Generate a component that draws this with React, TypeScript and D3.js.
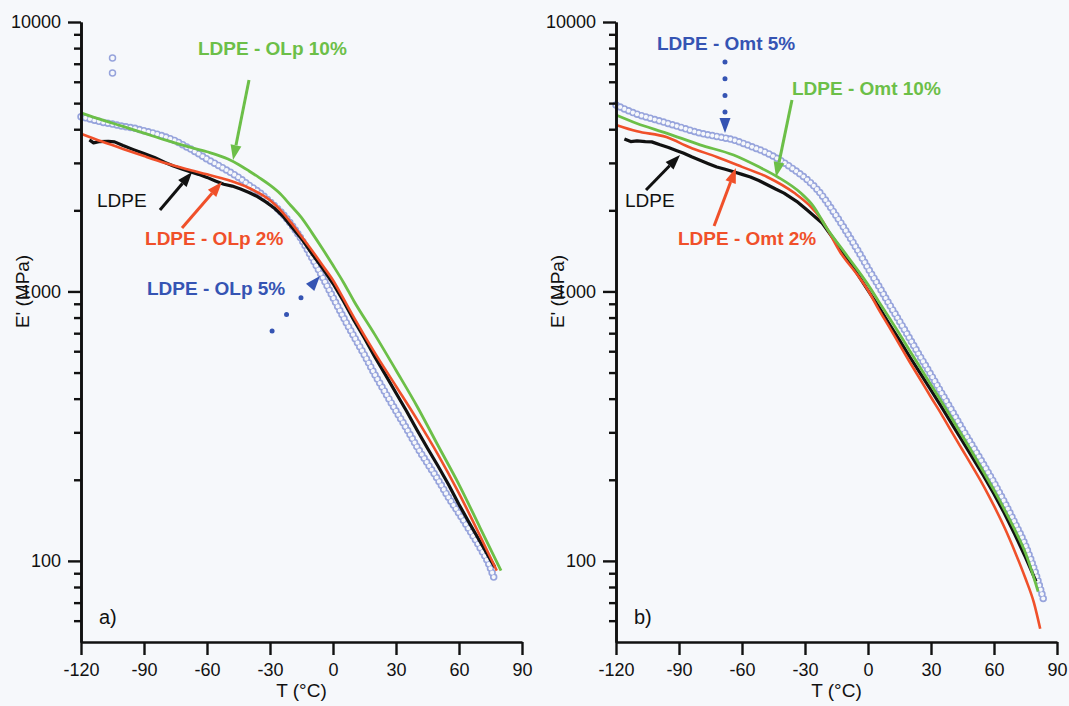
import React, { Component } from 'react'
import * as d3 from 'd3'

type Pt = [number, number]

// panel a) : T (°C), E' (MPa)
const ldpeA: Pt[] = [
  [-116, 3650], [-114, 3560], [-111, 3600], [-107, 3610], [-104, 3590], [-100, 3480],
  [-95, 3360], [-90, 3250], [-85, 3140], [-80, 3010], [-76, 2920], [-72, 2850],
  [-68, 2780], [-64, 2720], [-60, 2650], [-56, 2570], [-52, 2500], [-48, 2460],
  [-44, 2400], [-40, 2330], [-36, 2250], [-32, 2150], [-28, 2040], [-24, 1910],
  [-20, 1750], [-15, 1570], [-10, 1380], [-5, 1220], [0, 1070], [5, 920], [10, 780],
  [15, 670], [20, 570], [25, 490], [30, 420], [35, 360], [40, 306], [45, 262],
  [50, 225], [55, 192], [60, 162], [65, 138], [70, 118], [74, 104], [77, 95]
]
const olp2: Pt[] = [
  [-120, 3850], [-110, 3600], [-100, 3380], [-90, 3180], [-80, 3000], [-70, 2850],
  [-60, 2720], [-50, 2590], [-40, 2420], [-30, 2180], [-25, 2005], [-20, 1800],
  [-15, 1600], [-10, 1420], [-5, 1250], [0, 1100], [5, 940], [10, 800], [20, 590],
  [30, 445], [40, 335], [50, 248], [60, 178], [70, 124], [78, 92]
]
const olp5: Pt[] = [
  [-120, 4450], [-115, 4350], [-110, 4250], [-105, 4180], [-100, 4100], [-95, 4040],
  [-90, 3950], [-85, 3860], [-80, 3750], [-75, 3620], [-70, 3450], [-65, 3280],
  [-60, 3100], [-55, 2950], [-50, 2800], [-45, 2650], [-40, 2480], [-35, 2330],
  [-30, 2150], [-25, 1980], [-20, 1780], [-15, 1560], [-10, 1330], [-5, 1130],
  [0, 950], [5, 800], [10, 680], [15, 580], [20, 490], [25, 420], [30, 360],
  [35, 310], [40, 265], [45, 230], [50, 200], [55, 172], [60, 150], [65, 130],
  [70, 112], [74, 98], [77, 85]
]
const olp5Stray: Pt[] = [[-105, 7350], [-105, 6470]]
const olp10: Pt[] = [
  [-120, 4600], [-110, 4330], [-100, 4100], [-90, 3870], [-80, 3650], [-70, 3460],
  [-60, 3300], [-50, 3100], [-45, 2960], [-40, 2800], [-35, 2640], [-30, 2480],
  [-25, 2300], [-20, 2080], [-15, 1880], [-10, 1650], [-5, 1440], [0, 1250],
  [5, 1080], [10, 920], [20, 690], [30, 510], [40, 375], [50, 268], [60, 192],
  [70, 133], [80, 92]
]

// panel b)
const ldpeB: Pt[] = [
  [-116, 3680], [-113, 3600], [-110, 3620], [-106, 3600], [-103, 3590], [-99, 3500],
  [-95, 3420], [-91, 3330], [-88, 3263], [-84, 3160], [-80, 3070], [-76, 2980],
  [-72, 2897], [-68, 2840], [-64, 2780], [-60, 2720], [-56, 2660], [-52, 2580],
  [-48, 2490], [-44, 2400], [-40, 2318], [-34, 2160], [-29, 2005], [-22, 1800],
  [-16, 1552], [-10, 1330], [-5, 1160], [0, 1010], [5, 880], [10, 760], [15, 660],
  [20, 570], [25, 495], [30, 430], [35, 373], [40, 322], [45, 278], [50, 240],
  [55, 207], [60, 177], [65, 150], [70, 125], [75, 103], [80, 84]
]
const omt2: Pt[] = [
  [-120, 4150], [-110, 3930], [-96, 3740], [-85, 3430], [-72, 3155], [-60, 2900],
  [-48, 2660], [-35, 2318], [-28, 2090], [-22, 1841], [-13, 1390], [-5, 1150],
  [0, 1010], [5, 860], [10, 740], [15, 635], [20, 545], [25, 470], [30, 405],
  [35, 350], [40, 300], [45, 258], [50, 222], [55, 190], [60, 160], [65, 133],
  [70, 108], [75, 86], [79, 70], [82, 56]
]
const omt5: Pt[] = [
  [-120, 4920], [-115, 4720], [-110, 4550], [-103, 4380], [-96, 4220], [-88, 4040],
  [-80, 3870], [-72, 3760], [-64, 3650], [-56, 3460], [-48, 3263], [-41, 3040],
  [-35, 2825], [-29, 2600], [-24, 2380], [-20, 2170], [-16, 1953], [-12, 1750],
  [-7, 1513], [-3, 1340], [0, 1220], [5, 1050], [10, 900], [15, 775], [20, 665],
  [25, 570], [30, 490], [35, 420], [40, 360], [45, 308], [50, 265], [55, 228],
  [60, 195], [65, 165], [70, 138], [75, 114], [80, 89], [84, 70]
]
const omt10: Pt[] = [
  [-120, 4515], [-110, 4200], [-96, 3870], [-80, 3500], [-64, 3208], [-52, 2900],
  [-43, 2660], [-32, 2318], [-26, 2070], [-20, 1734], [-11, 1390], [0, 1060],
  [5, 920], [10, 800], [15, 695], [20, 600], [25, 520], [30, 450], [35, 390],
  [40, 337], [45, 290], [50, 250], [55, 214], [60, 183], [65, 155], [70, 130],
  [75, 107], [81, 77]
]

const xTicks = [-120, -90, -60, -30, 0, 30, 60, 90]
const yMajor = [100, 1000, 10000]
const yMinor = [60, 70, 80, 90, 200, 300, 400, 500, 600, 700, 800, 900,
  2000, 3000, 4000, 5000, 6000, 7000, 8000, 9000]

const W = 1069
const H = 706
const TOP = 22
const BOTTOM = 642
const FONT = "'Liberation Sans', Arial, Helvetica, sans-serif"
const BG = '#f6f8fb'
const BLACK = '#111111'
const RED = '#f0502a'
const GREEN = '#6cbf48'
const BLUE = '#3554b3'
const RING = '#97a4dc'

const panels = [
  {
    x0: 81, x1: 522, tag: 'a)',
    black: ldpeA, red: olp2, green: olp10, rings: olp5, stray: olp5Stray,
    labels: [
      { text: 'LDPE - OLp 10%', at: [-64.3, 8010], color: GREEN, bold: true },
      { text: 'LDPE', at: [-112.4, 2184], color: BLACK, bold: false },
      { text: 'LDPE - OLp 2%', at: [-89.5, 1579], color: RED, bold: true },
      { text: 'LDPE - OLp 5%', at: [-88.6, 1029], color: BLUE, bold: true }
    ],
    arrows: [
      { from: [-40, 6090], to: [-47.6, 3074], color: GREEN, dotted: 0 },
      { from: [-82.4, 2005], to: [-67.1, 2775], color: BLACK, dotted: 0 },
      { from: [-71.9, 1719], to: [-52.9, 2548], color: RED, dotted: 0 },
      { from: [-29, 713], to: [-6.2, 1141], color: BLUE, dotted: 22 }
    ]
  },
  {
    x0: 616, x1: 1057, tag: 'b)',
    black: ldpeB, red: omt2, green: omt10, rings: omt5, stray: [],
    labels: [
      { text: 'LDPE - Omt 5%', at: [-100.5, 8360], color: BLUE, bold: true },
      { text: 'LDPE - Omt 10%', at: [-36.2, 5690], color: GREEN, bold: true },
      { text: 'LDPE', at: [-115.7, 2184], color: BLACK, bold: false },
      { text: 'LDPE - Omt 2%', at: [-90.5, 1579], color: RED, bold: true }
    ],
    arrows: [
      { from: [-68.1, 7105], to: [-68.1, 3873], color: BLUE, dotted: 16.7 },
      { from: [-36.2, 5134], to: [-43.8, 2658], color: GREEN, dotted: 0 },
      { from: [-105.7, 2379], to: [-89.5, 3209], color: BLACK, dotted: 0 },
      { from: [-73.3, 1749], to: [-62.9, 2871], color: RED, dotted: 0 }
    ]
  }
]

class App extends Component {
  svgContainer: SVGSVGElement | null = null
  setSvgContainer = (e: SVGSVGElement | null) => {
    this.svgContainer = e
  }

  componentDidMount() {
    this.drawChart()
  }

  drawPanel(svg: any, p: any) {
    const x = d3.scaleLinear().domain([-120, 90]).range([p.x0, p.x1])
    const y = d3.scaleLog().domain([50, 10000]).range([BOTTOM, TOP])
    const g = svg.append('g')

    const smooth = d3.line<Pt>().x(d => x(d[0])).y(d => y(d[1])).curve(d3.curveMonotoneX)
    const rough = d3.line<Pt>().x(d => x(d[0])).y(d => y(d[1]))

    // open circles series: ring chain along the data
    g.append('path').datum(p.rings).attr('d', smooth)
      .attr('fill', 'none').attr('stroke', RING).attr('stroke-width', 7.5)
      .attr('stroke-linecap', 'round').attr('stroke-dasharray', '0 4.6')
    g.append('path').datum(p.rings).attr('d', smooth)
      .attr('fill', 'none').attr('stroke', BG).attr('stroke-width', 4.2)
      .attr('stroke-linecap', 'round').attr('stroke-dasharray', '0 4.6')
    g.selectAll('circle.stray').data(p.stray).enter().append('circle')
      .attr('cx', (d: Pt) => x(d[0])).attr('cy', (d: Pt) => y(d[1]))
      .attr('r', 3).attr('fill', 'none').attr('stroke', RING).attr('stroke-width', 1.5)

    g.append('path').datum(p.black).attr('d', rough)
      .attr('fill', 'none').attr('stroke', BLACK).attr('stroke-width', 3.2)
      .attr('stroke-linejoin', 'round')
    g.append('path').datum(p.red).attr('d', smooth)
      .attr('fill', 'none').attr('stroke', RED).attr('stroke-width', 2.6)
    g.append('path').datum(p.green).attr('d', smooth)
      .attr('fill', 'none').attr('stroke', GREEN).attr('stroke-width', 2.8)

    // axes
    const styleAxis = (a: any) => {
      a.attr('font-size', null).attr('font-family', null).attr('color', BLACK)
      a.select('.domain').attr('stroke-width', 2.6)
      a.selectAll('.tick line').attr('stroke-width', 2.4)
      a.selectAll('text').attr('font-size', 18).attr('font-family', FONT).attr('fill', BLACK)
    }
    const yMin = g.append('g').attr('transform', `translate(${p.x0},0)`)
      .call(d3.axisLeft(y).tickValues(yMinor).tickSize(7).tickSizeOuter(0).tickFormat(() => ''))
    styleAxis(yMin)
    const yMaj = g.append('g').attr('transform', `translate(${p.x0},0)`)
      .call(d3.axisLeft(y).tickValues(yMajor).tickSize(13).tickSizeOuter(0).tickPadding(7)
        .tickFormat(d3.format('d')))
    styleAxis(yMaj)
    const xAx = g.append('g').attr('transform', `translate(0,${BOTTOM})`)
      .call(d3.axisBottom(x).tickValues(xTicks).tickSize(13).tickSizeOuter(0).tickPadding(8)
        .tickFormat(d3.format('d')))
    styleAxis(xAx)
    xAx.selectAll('text').text((d: number) => String(d))

    g.append('text').text('T (°C)')
      .attr('x', (p.x0 + p.x1) / 2).attr('y', 697)
      .attr('text-anchor', 'middle').attr('font-size', 19).attr('font-family', FONT).attr('fill', BLACK)
    g.append('text').text("E' (MPa)")
      .attr('transform', `translate(${p.x0 - 59},${y(1000)}) rotate(-90)`)
      .attr('text-anchor', 'middle').attr('dy', '0.35em')
      .attr('font-size', 19).attr('font-family', FONT).attr('fill', BLACK)
    g.append('text').text(p.tag)
      .attr('x', p.x0 + 18).attr('y', 624)
      .attr('font-size', 20).attr('font-family', FONT).attr('fill', BLACK)

    // annotations
    p.arrows.forEach((a: any) => {
      const tx = x(a.from[0])
      const ty = y(a.from[1])
      const hx = x(a.to[0])
      const hy = y(a.to[1])
      const ang = Math.atan2(hy - ty, hx - tx)
      const len = 15
      const half = 5.5
      const bx = hx - len * Math.cos(ang)
      const by = hy - len * Math.sin(ang)
      const ln = g.append('line')
        .attr('x1', tx).attr('y1', ty).attr('x2', bx).attr('y2', by)
        .attr('stroke', a.color)
      if (a.dotted) {
        ln.attr('stroke-width', 5).attr('stroke-linecap', 'round')
          .attr('stroke-dasharray', `0 ${a.dotted}`)
      } else {
        ln.attr('stroke-width', 3)
      }
      const px = -Math.sin(ang) * half
      const py = Math.cos(ang) * half
      g.append('polygon')
        .attr('points', `${hx},${hy} ${bx + px},${by + py} ${bx - px},${by - py}`)
        .attr('fill', a.color)
    })
    p.labels.forEach((l: any) => {
      g.append('text').text(l.text)
        .attr('x', x(l.at[0])).attr('y', y(l.at[1])).attr('dy', '0.35em')
        .attr('font-size', 19).attr('font-weight', l.bold ? 'bold' : 'normal')
        .attr('font-family', FONT).attr('fill', l.color)
    })
  }

  drawChart() {
    const svg = d3.select(this.svgContainer)
    svg.append('rect').attr('width', W).attr('height', H).attr('fill', BG)
    panels.forEach(p => this.drawPanel(svg, p))
  }

  render() {
    return (
      <svg
        ref={this.setSvgContainer}
        width={W}
        height={H}
        style={{ position: 'absolute', left: 0, top: 0, display: 'block' }}
      />
    )
  }
}

export default App
